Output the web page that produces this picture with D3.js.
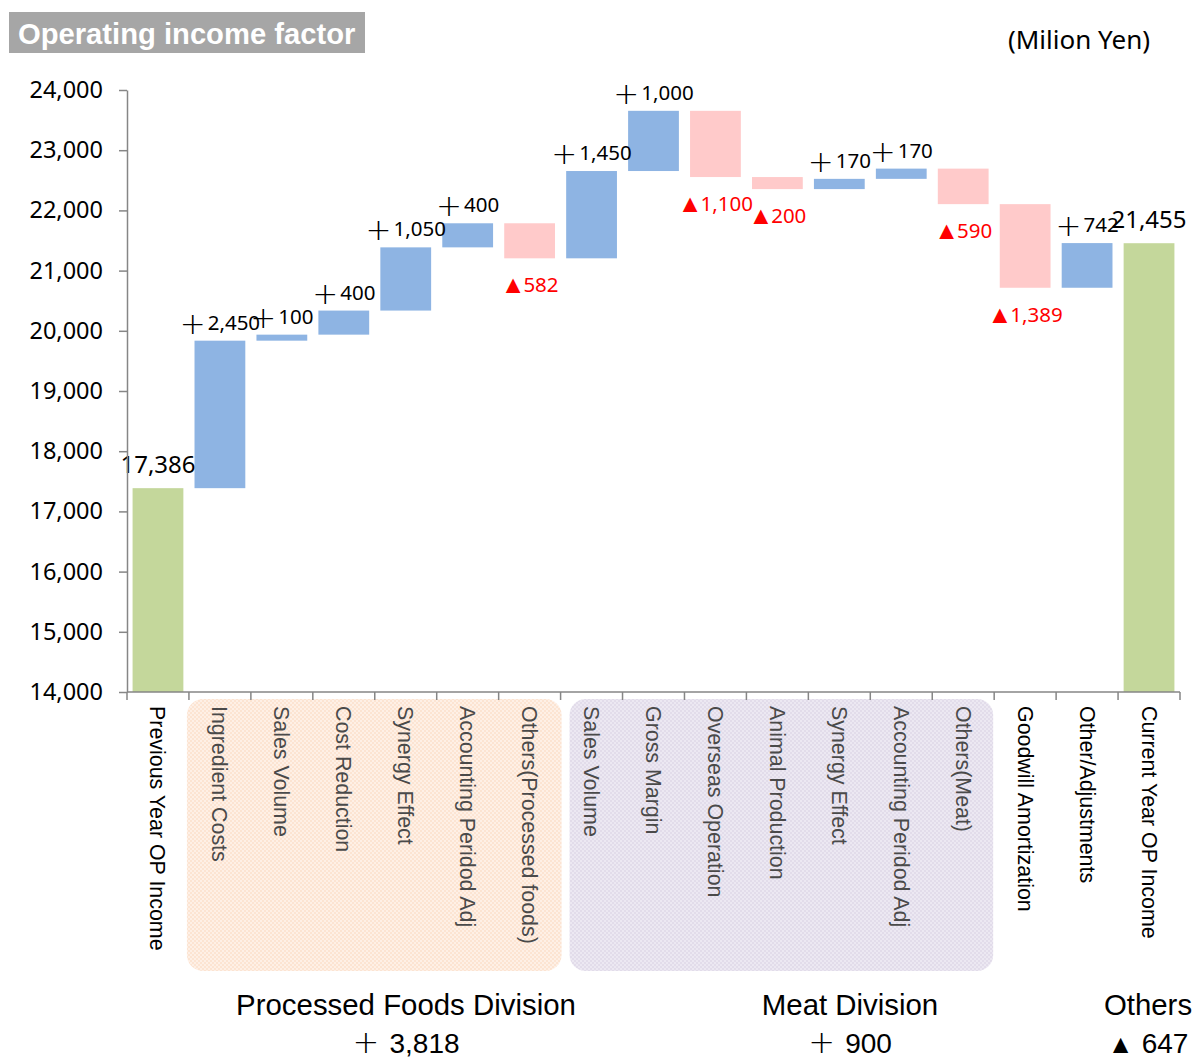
<!DOCTYPE html>
<html>
<head>
<meta charset="utf-8">
<script src="https://cdn.jsdelivr.net/npm/d3@7"></script>
<style>
  body { margin: 0; background: #fff; }
  svg { display: block; }
</style>
</head>
<body>
<div id="chart"></div>
<script>
// ---- data ----
const categories = [
  "Previous Year OP Income",
  "Ingredient Costs", "Sales Volume ", "Cost Reduction", "Synergy Effect ", "Accounting Peridod Adj ", "Others(Processed foods)",
  "Sales Volume", "Gross Margin", "Overseas Operation", "Animal Production", "Synergy Effect", "Accounting Peridod Adj", "Others(Meat)",
  "Goodwill Amortization", "Other/Adjustments",
  "Current Year OP Income"
];
const startValue = 17386;
const endValue = 21455;
const deltas = [2450, 100, 400, 1050, 400, -582, 1450, 1000, -1100, -200, 170, 170, -590, -1389, 742];
const yTicks = [14000, 15000, 16000, 17000, 18000, 19000, 20000, 21000, 22000, 23000, 24000];
const groupNames = ["Processed Foods Division", "Meat Division", "Others"];
const groupSigns = ["+", "+", "▲"];
const groupTotals = ["3,818", "900", "647"];
const groupRanges = [[1, 6], [7, 13]]; // category index ranges with a background box

// ---- layout ----
const W = 1192, H = 1061;
const plot = { left: 127, right: 1180, top: 90, bottom: 692 };
const colors = { total: "#c4d79b", up: "#8eb4e3", down: "#ffcaca", axis: "#868686", neg: "#ff0000" };
const numFont = "'Noto Sans', 'DejaVu Sans', sans-serif";
const textFont = "'Liberation Sans', Arial, sans-serif";

const fmt = d3.format(",");

// build the waterfall rows
let rows = [];
rows.push({ cat: categories[0], y0: yTicks[0], y1: startValue, kind: "total", sign: "", num: fmt(startValue) });
let run = startValue;
deltas.forEach((d, i) => {
  let from = run;
  run += d;
  rows.push({
    cat: categories[i + 1],
    y0: Math.min(from, run),
    y1: Math.max(from, run),
    kind: d >= 0 ? "up" : "down",
    sign: d >= 0 ? "+" : "▲",
    num: fmt(Math.abs(d))
  });
});
rows.push({ cat: categories[categories.length - 1], y0: yTicks[0], y1: endValue, kind: "total", sign: "", num: fmt(endValue) });

const svg = d3.select("#chart").append("svg")
  .attr("width", W)
  .attr("height", H);

const x = d3.scaleBand()
  .domain(categories)
  .range([plot.left, plot.right])
  .paddingInner(0.18)
  .paddingOuter(0.09);

const y = d3.scaleLinear()
  .domain([yTicks[0], yTicks[yTicks.length - 1]])
  .range([plot.bottom, plot.top]);

const step = x.step();
const boundary = (i) => plot.left + step * i;

// dotted textures for the division boxes
const defs = svg.append("defs");
function addPattern(id, base, dot) {
  let p = defs.append("pattern")
    .attr("id", id)
    .attr("width", 4).attr("height", 4)
    .attr("patternUnits", "userSpaceOnUse");
  p.append("rect").attr("width", 4).attr("height", 4).attr("fill", base);
  p.append("rect").attr("width", 2).attr("height", 2).attr("fill", dot);
  p.append("rect").attr("x", 2).attr("y", 2).attr("width", 2).attr("height", 2).attr("fill", dot);
}
addPattern("pOrange", "#fce4d2", "#fef0e6");
addPattern("pPurple", "#e2dcea", "#ece8f2");

// title
svg.append("rect")
  .attr("x", 9).attr("y", 12)
  .attr("width", 356).attr("height", 41)
  .attr("fill", "#a6a6a6");
svg.append("text")
  .attr("x", 18).attr("y", 44)
  .attr("fill", "#fff")
  .attr("font-family", textFont)
  .attr("font-weight", "bold")
  .attr("font-size", 29.2)
  .text("Operating income factor");

svg.append("text")
  .attr("x", 1150).attr("y", 49)
  .attr("text-anchor", "end")
  .attr("font-family", numFont)
  .attr("font-size", 26)
  .text("(Milion Yen)");

// division boxes behind the category labels
const boxInset = [[-2, 1], [9, -1]];
svg.selectAll("rect.group")
  .data(groupRanges)
  .enter()
  .append("rect")
  .attr("class", "group")
  .attr("x", (r, i) => boundary(r[0]) + boxInset[i][0])
  .attr("y", 699)
  .attr("width", (r, i) => boundary(r[1] + 1) + boxInset[i][1] - boundary(r[0]) - boxInset[i][0])
  .attr("height", 272)
  .attr("rx", 16)
  .attr("fill", (r, i) => i === 0 ? "url(#pOrange)" : "url(#pPurple)");

// bars
svg.selectAll("rect.bar")
  .data(rows)
  .enter()
  .append("rect")
  .attr("class", "bar")
  .attr("x", (d) => x(d.cat))
  .attr("width", x.bandwidth())
  .attr("y", (d) => y(d.y1))
  .attr("height", (d) => y(d.y0) - y(d.y1))
  .attr("fill", (d) => colors[d.kind]);

// value labels
let vals = svg.selectAll("text.val")
  .data(rows)
  .enter()
  .append("text")
  .attr("class", "val")
  .attr("x", (d) => x(d.cat) + x.bandwidth() / 2)
  .attr("y", (d) => d.kind === "down" ? y(d.y0) + 34 : y(d.y1) - (d.kind === "total" ? 15 : 11))
  .attr("text-anchor", "middle")
  .attr("font-family", numFont)
  .attr("font-size", (d) => d.kind === "total" ? 24 : 20.5)
  .attr("fill", (d) => d.kind === "down" ? colors.neg : "#000");
vals.append("tspan")
  .attr("font-family", "'DejaVu Sans', sans-serif")
  .attr("font-size", (d) => d.kind === "up" ? 31 : 25)
  .attr("font-weight", 300)
  .attr("dy", (d) => d.kind === "up" ? 4 : 1)
  .text((d) => d.sign);
vals.append("tspan")
  .attr("dx", (d) => d.kind === "up" ? 2 : (d.kind === "down" ? -2 : 0))
  .attr("dy", (d) => d.kind === "up" ? -4 : (d.kind === "down" ? -1 : 0))
  .text((d) => d.num);

// y axis
let yAxis = svg.append("g")
  .attr("transform", `translate(${plot.left},0)`)
  .call(d3.axisLeft(y).tickValues(yTicks).tickFormat(fmt).tickSize(8).tickSizeOuter(0).tickPadding(16));
yAxis.selectAll("path, line").attr("stroke", colors.axis).attr("stroke-width", 1.5);
yAxis.selectAll("text")
  .attr("font-family", numFont)
  .attr("font-size", 23.5)
  .attr("fill", "#000");

// x axis line and boundary ticks
svg.append("line")
  .attr("x1", plot.left).attr("x2", plot.right)
  .attr("y1", plot.bottom).attr("y2", plot.bottom)
  .attr("stroke", colors.axis).attr("stroke-width", 1.5);
svg.selectAll("line.xtick")
  .data(d3.range(categories.length + 1))
  .enter()
  .append("line")
  .attr("class", "xtick")
  .attr("x1", (i) => boundary(i)).attr("x2", (i) => boundary(i))
  .attr("y1", plot.bottom).attr("y2", plot.bottom + 8)
  .attr("stroke", colors.axis).attr("stroke-width", 1.5);

// rotated category labels
const inGroup = (i) => groupRanges.some((r) => i >= r[0] && i <= r[1]);
svg.selectAll("text.cat")
  .data(categories)
  .enter()
  .append("text")
  .attr("class", "cat")
  .attr("transform", (d) => `translate(${x(d) + x.bandwidth() / 2},706) rotate(90)`)
  .attr("dy", "0.35em")
  .attr("font-family", textFont)
  .attr("font-size", 21.4)
  .attr("fill", (d, i) => inGroup(i) ? "#4a4a4a" : "#000")
  .text((d) => d.trim());

// division summaries
const groupX = [406, 850, 1148];
groupNames.forEach((name, i) => {
  svg.append("text")
    .attr("x", groupX[i]).attr("y", 1015)
    .attr("text-anchor", "middle")
    .attr("font-family", textFont)
    .attr("font-size", 29.4)
    .text(name);
  let t = svg.append("text")
    .attr("x", groupX[i]).attr("y", 1053)
    .attr("text-anchor", "middle")
    .attr("font-family", textFont)
    .attr("font-size", 28);
  t.append("tspan")
    .attr("font-family", "'DejaVu Sans', sans-serif")
    .attr("font-size", groupSigns[i] === "+" ? 32 : 26)
    .attr("font-weight", 300)
    .text(groupSigns[i] + " ");
  t.append("tspan").text(groupTotals[i]);
});
</script>
</body>
</html>
